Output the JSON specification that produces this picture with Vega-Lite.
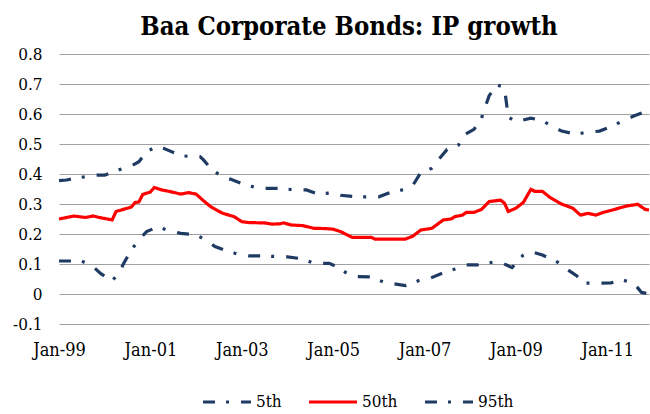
{
 "$schema": "https://vega.github.io/schema/vega-lite/v6.json",
 "width": 590, "height": 270,
 "autosize": "none",
 "padding": {"left": 59, "top": 54, "right": 1, "bottom": 90},
 "background": "white",
 "title": {"text": "Baa Corporate Bonds: IP growth", "font": "DejaVu Serif Condensed, Liberation Serif", "fontSize": 25.5, "fontWeight": "bold", "color": "#000000", "anchor": "middle", "dx": -5, "offset": 5},
 "config": {"view": {"stroke": null}, "font": "DejaVu Serif Condensed, Liberation Serif"},
 "data": {"values": [
  {"d":"1999-01-01","s":"5th","v":0.110},{"d":"1999-03-01","s":"5th","v":0.110},{"d":"1999-07-01","s":"5th","v":0.110},{"d":"1999-10-01","s":"5th","v":0.091},{"d":"1999-12-01","s":"5th","v":0.068},{"d":"2000-03-01","s":"5th","v":0.044},{"d":"2000-05-01","s":"5th","v":0.074},{"d":"2000-06-01","s":"5th","v":0.102},{"d":"2000-08-01","s":"5th","v":0.147},{"d":"2000-10-01","s":"5th","v":0.180},{"d":"2000-12-01","s":"5th","v":0.208},{"d":"2001-03-01","s":"5th","v":0.224},{"d":"2001-06-01","s":"5th","v":0.211},{"d":"2001-09-01","s":"5th","v":0.202},{"d":"2002-01-01","s":"5th","v":0.197},{"d":"2002-04-01","s":"5th","v":0.177},{"d":"2002-06-01","s":"5th","v":0.158},{"d":"2002-09-01","s":"5th","v":0.144},{"d":"2002-12-01","s":"5th","v":0.133},{"d":"2003-03-01","s":"5th","v":0.127},{"d":"2003-07-01","s":"5th","v":0.127},{"d":"2003-11-01","s":"5th","v":0.124},{"d":"2004-01-01","s":"5th","v":0.124},{"d":"2004-05-01","s":"5th","v":0.117},{"d":"2004-08-01","s":"5th","v":0.102},{"d":"2004-12-01","s":"5th","v":0.102},{"d":"2005-02-01","s":"5th","v":0.091},{"d":"2005-05-01","s":"5th","v":0.066},{"d":"2005-07-01","s":"5th","v":0.058},{"d":"2005-11-01","s":"5th","v":0.057},{"d":"2006-03-01","s":"5th","v":0.036},{"d":"2006-05-01","s":"5th","v":0.034},{"d":"2006-08-01","s":"5th","v":0.028},{"d":"2006-12-01","s":"5th","v":0.047},{"d":"2007-02-01","s":"5th","v":0.050},{"d":"2007-06-01","s":"5th","v":0.071},{"d":"2007-09-01","s":"5th","v":0.083},{"d":"2007-12-01","s":"5th","v":0.097},{"d":"2008-03-01","s":"5th","v":0.097},{"d":"2008-07-01","s":"5th","v":0.106},{"d":"2008-09-01","s":"5th","v":0.106},{"d":"2008-12-01","s":"5th","v":0.088},{"d":"2009-03-01","s":"5th","v":0.130},{"d":"2009-05-01","s":"5th","v":0.141},{"d":"2009-08-01","s":"5th","v":0.130},{"d":"2009-12-01","s":"5th","v":0.106},{"d":"2010-02-01","s":"5th","v":0.086},{"d":"2010-05-01","s":"5th","v":0.061},{"d":"2010-07-01","s":"5th","v":0.036},{"d":"2010-10-01","s":"5th","v":0.036},{"d":"2011-02-01","s":"5th","v":0.037},{"d":"2011-05-01","s":"5th","v":0.047},{"d":"2011-08-01","s":"5th","v":0.036},{"d":"2011-10-01","s":"5th","v":0.006},{"d":"2011-12-01","s":"5th","v":0.000},

  {"d":"1999-01-01","s":"50th","v":0.250},{"d":"1999-05-01","s":"50th","v":0.260},{"d":"1999-08-01","s":"50th","v":0.255},{"d":"1999-10-01","s":"50th","v":0.260},{"d":"1999-12-01","s":"50th","v":0.254},{"d":"2000-03-01","s":"50th","v":0.247},{"d":"2000-04-01","s":"50th","v":0.275},{"d":"2000-07-01","s":"50th","v":0.286},{"d":"2000-08-01","s":"50th","v":0.290},{"d":"2000-09-01","s":"50th","v":0.305},{"d":"2000-10-01","s":"50th","v":0.307},{"d":"2000-11-01","s":"50th","v":0.332},{"d":"2001-01-01","s":"50th","v":0.340},{"d":"2001-02-01","s":"50th","v":0.355},{"d":"2001-04-01","s":"50th","v":0.347},{"d":"2001-06-01","s":"50th","v":0.342},{"d":"2001-09-01","s":"50th","v":0.333},{"d":"2001-11-01","s":"50th","v":0.338},{"d":"2002-01-01","s":"50th","v":0.333},{"d":"2002-03-01","s":"50th","v":0.311},{"d":"2002-05-01","s":"50th","v":0.290},{"d":"2002-08-01","s":"50th","v":0.269},{"d":"2002-11-01","s":"50th","v":0.258},{"d":"2003-01-01","s":"50th","v":0.241},{"d":"2003-03-01","s":"50th","v":0.238},{"d":"2003-07-01","s":"50th","v":0.237},{"d":"2003-09-01","s":"50th","v":0.233},{"d":"2003-11-01","s":"50th","v":0.234},{"d":"2003-12-01","s":"50th","v":0.237},{"d":"2004-02-01","s":"50th","v":0.230},{"d":"2004-05-01","s":"50th","v":0.228},{"d":"2004-08-01","s":"50th","v":0.219},{"d":"2004-11-01","s":"50th","v":0.218},{"d":"2005-01-01","s":"50th","v":0.216},{"d":"2005-03-01","s":"50th","v":0.208},{"d":"2005-06-01","s":"50th","v":0.189},{"d":"2005-11-01","s":"50th","v":0.189},{"d":"2005-12-01","s":"50th","v":0.183},{"d":"2006-08-01","s":"50th","v":0.183},{"d":"2006-10-01","s":"50th","v":0.193},{"d":"2006-12-01","s":"50th","v":0.213},{"d":"2007-03-01","s":"50th","v":0.219},{"d":"2007-06-01","s":"50th","v":0.247},{"d":"2007-08-01","s":"50th","v":0.250},{"d":"2007-09-01","s":"50th","v":0.258},{"d":"2007-11-01","s":"50th","v":0.263},{"d":"2007-12-01","s":"50th","v":0.272},{"d":"2008-02-01","s":"50th","v":0.272},{"d":"2008-04-01","s":"50th","v":0.282},{"d":"2008-06-01","s":"50th","v":0.308},{"d":"2008-09-01","s":"50th","v":0.313},{"d":"2008-10-01","s":"50th","v":0.303},{"d":"2008-11-01","s":"50th","v":0.275},{"d":"2009-01-01","s":"50th","v":0.286},{"d":"2009-03-01","s":"50th","v":0.305},{"d":"2009-05-01","s":"50th","v":0.349},{"d":"2009-06-01","s":"50th","v":0.342},{"d":"2009-08-01","s":"50th","v":0.342},{"d":"2009-10-01","s":"50th","v":0.322},{"d":"2010-01-01","s":"50th","v":0.300},{"d":"2010-04-01","s":"50th","v":0.286},{"d":"2010-06-01","s":"50th","v":0.263},{"d":"2010-08-01","s":"50th","v":0.269},{"d":"2010-10-01","s":"50th","v":0.263},{"d":"2010-12-01","s":"50th","v":0.272},{"d":"2011-03-01","s":"50th","v":0.282},{"d":"2011-06-01","s":"50th","v":0.293},{"d":"2011-09-01","s":"50th","v":0.299},{"d":"2011-11-01","s":"50th","v":0.282},{"d":"2011-12-01","s":"50th","v":0.280},

  {"d":"1999-01-01","s":"95th","v":0.378},{"d":"1999-03-01","s":"95th","v":0.380},{"d":"1999-07-01","s":"95th","v":0.389},{"d":"1999-11-01","s":"95th","v":0.396},{"d":"2000-01-01","s":"95th","v":0.396},{"d":"2000-04-01","s":"95th","v":0.411},{"d":"2000-08-01","s":"95th","v":0.427},{"d":"2000-10-01","s":"95th","v":0.441},{"d":"2000-12-01","s":"95th","v":0.474},{"d":"2001-03-01","s":"95th","v":0.494},{"d":"2001-05-01","s":"95th","v":0.483},{"d":"2001-09-01","s":"95th","v":0.461},{"d":"2001-12-01","s":"95th","v":0.458},{"d":"2002-02-01","s":"95th","v":0.458},{"d":"2002-03-01","s":"95th","v":0.447},{"d":"2002-05-01","s":"95th","v":0.418},{"d":"2002-08-01","s":"95th","v":0.389},{"d":"2002-10-01","s":"95th","v":0.383},{"d":"2003-02-01","s":"95th","v":0.363},{"d":"2003-06-01","s":"95th","v":0.352},{"d":"2003-08-01","s":"95th","v":0.352},{"d":"2003-11-01","s":"95th","v":0.352},{"d":"2004-03-01","s":"95th","v":0.347},{"d":"2004-06-01","s":"95th","v":0.347},{"d":"2004-09-01","s":"95th","v":0.333},{"d":"2005-01-01","s":"95th","v":0.338},{"d":"2005-03-01","s":"95th","v":0.329},{"d":"2005-07-01","s":"95th","v":0.324},{"d":"2006-01-01","s":"95th","v":0.324},{"d":"2006-04-01","s":"95th","v":0.338},{"d":"2006-08-01","s":"95th","v":0.349},{"d":"2006-10-01","s":"95th","v":0.363},{"d":"2006-12-01","s":"95th","v":0.404},{"d":"2007-03-01","s":"95th","v":0.419},{"d":"2007-05-01","s":"95th","v":0.452},{"d":"2007-07-01","s":"95th","v":0.482},{"d":"2007-10-01","s":"95th","v":0.497},{"d":"2007-11-01","s":"95th","v":0.527},{"d":"2008-02-01","s":"95th","v":0.549},{"d":"2008-04-01","s":"95th","v":0.586},{"d":"2008-05-01","s":"95th","v":0.624},{"d":"2008-06-01","s":"95th","v":0.661},{"d":"2008-08-01","s":"95th","v":0.697},{"d":"2008-10-01","s":"95th","v":0.688},{"d":"2008-11-01","s":"95th","v":0.590},{"d":"2009-01-01","s":"95th","v":0.574},{"d":"2009-05-01","s":"95th","v":0.586},{"d":"2009-08-01","s":"95th","v":0.578},{"d":"2009-10-01","s":"95th","v":0.563},{"d":"2010-01-01","s":"95th","v":0.543},{"d":"2010-05-01","s":"95th","v":0.532},{"d":"2010-07-01","s":"95th","v":0.538},{"d":"2010-11-01","s":"95th","v":0.543},{"d":"2011-03-01","s":"95th","v":0.563},{"d":"2011-05-01","s":"95th","v":0.577},{"d":"2011-08-01","s":"95th","v":0.593},{"d":"2011-11-01","s":"95th","v":0.608},{"d":"2011-12-01","s":"95th","v":0.613}
 ]},
 "mark": {"type": "line", "strokeWidth": 3.2},
 "encoding": {
  "x": {"field": "d", "type": "temporal",
   "scale": {"domain": [{"year": 1999, "month": 1, "date": 1}, {"year": 2011, "month": 12, "date": 1}]},
   "axis": {"title": null, "format": "%b-%y",
    "values": [{"year": 1999, "month": 1, "date": 1}, {"year": 2001, "month": 1, "date": 1}, {"year": 2003, "month": 1, "date": 1}, {"year": 2005, "month": 1, "date": 1}, {"year": 2007, "month": 1, "date": 1}, {"year": 2009, "month": 1, "date": 1}, {"year": 2011, "month": 1, "date": 1}],
    "labelFont": "DejaVu Serif Condensed, Liberation Serif", "labelFontSize": 18, "labelColor": "#000000", "domain": false, "ticks": false, "grid": false, "labelPadding": 17, "labelOverlap": false, "labelBound": false, "labelFlush": false}},
  "y": {"field": "v", "type": "quantitative",
   "scale": {"domain": [-0.1, 0.8], "nice": false, "zero": false},
   "axis": {"title": null, "values": [-0.1, 0, 0.1, 0.2, 0.3, 0.4, 0.5, 0.6, 0.7, 0.8],
    "labelExpr": "toString(round(datum.value*10)/10)",
    "labelFont": "DejaVu Serif Condensed, Liberation Serif", "labelFontSize": 17, "labelColor": "#000000", "domain": false, "ticks": false,
    "gridColor": "#A0A0A0", "gridWidth": 1, "labelPadding": 17}},
  "color": {"field": "s", "type": "nominal",
   "scale": {"domain": ["5th", "50th", "95th"], "range": ["#1F3B64", "#FF0000", "#1F3B64"]},
   "legend": {"title": null, "orient": "none", "legendX": 142, "legendY": 322, "direction": "horizontal", "symbolType": "stroke", "symbolSize": 2304, "symbolStrokeWidth": 3.2,
    "labelFont": "DejaVu Serif Condensed, Liberation Serif", "labelFontSize": 17, "labelColor": "#000000", "columnPadding": 20, "labelOffset": 3}},
  "strokeDash": {"field": "s", "type": "nominal",
   "scale": {"domain": ["5th", "50th", "95th"], "range": [[12, 11, 3, 12], [1, 0], [12, 11, 3, 12]]}}
 }
}
